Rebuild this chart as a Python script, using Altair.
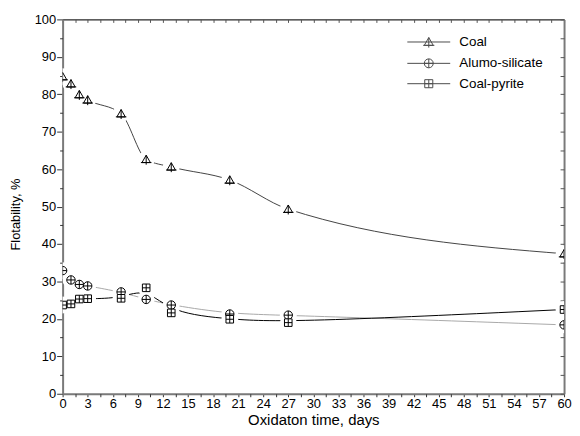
import altair as alt
import pandas as pd

days = [0, 1, 2, 3, 7, 10, 13, 20, 27, 60]
coal = [84.7, 82.8, 79.9, 78.5, 74.8, 62.6, 60.6, 57.1, 49.3, 37.4]
alumo = [32.9, 30.4, 29.2, 28.8, 27.2, 25.2, 23.7, 21.3, 21.0, 18.4]
pyrite = [23.7, 24.0, 25.3, 25.4, 25.5, 28.3, 21.6, 19.9, 19.0, 22.5]
series = ["Coal", "Alumo-silicate", "Coal-pyrite"]

x_major = [i * 3 for i in range(21)]
x_minor = [1.5 + i * 3 for i in range(20)]
x_all = [i * 1.5 for i in range(41)]
y_major = [i * 10 for i in range(11)]
y_minor = [5 + i * 10 for i in range(10)]
y_all = [i * 5 for i in range(21)]

rows = []
for name, vals in zip(series, [coal, alumo, pyrite]):
    for d, v in zip(days, vals):
        rows.append({"day": d, "value": v, "series": name})
df = pd.DataFrame(rows)

TRI = "M0,-1L1,0.75L-1,0.75Z M0,-1V1.25 M-1.25,0.75H1.25"
CIR = "M-1,0A1,1,0,1,1,1,0A1,1,0,1,1,-1,0Z M-1,0H1 M0,-1V1"
SQR = "M-0.9,-0.9H0.9V0.9H-0.9Z M-0.9,0H0.9 M0,-0.9V0.9"
LINE = "M-4.8,0H4.8 "

FONT = "Liberation Sans"
GRAY = "#7a7a7a"

xscale = alt.Scale(domain=[0, 60], nice=False, zero=False)
yscale = alt.Scale(domain=[0, 100], nice=False, zero=False)


def X(axis):
    return alt.X("day:Q", scale=xscale, axis=axis)


def Y(axis):
    return alt.Y("value:Q", scale=yscale, axis=axis)


base = alt.Chart(df)
color_scale = alt.Scale(domain=series, range=["#444444", "#a8a8a8", "#000000"])

lines_coal = base.transform_filter(alt.datum.series == "Coal").mark_line(
    interpolate="monotone", strokeWidth=1, clip=True).encode(
    x=X(alt.Axis(orient="bottom", values=x_major, tickSize=3, tickColor="#333",
                 domainColor=GRAY, domainWidth=2, labelFontSize=13, labelFont=FONT,
                 labelColor="black", labelPadding=1, labelFlush=False, labelOverlap=False,
                 title="Oxidaton time, days",
                 titleFont=FONT, titleFontSize=15, titleFontWeight="normal",
                 titleColor="black", titlePadding=2, grid=False)),
    y=Y(alt.Axis(orient="left", values=y_major, tickSize=6, tickColor="#333",
                 domainColor=GRAY, domainWidth=2, labelFontSize=13, labelFont=FONT,
                 labelColor="black", labelPadding=1, labelFlush=False, labelOverlap=False,
                 title="Flotability, %",
                 titleFont=FONT, titleFontSize=13, titleFontWeight="normal",
                 titleColor="black", titlePadding=12, titleY=196, grid=False)),
    color=alt.Color("series:N", scale=color_scale, legend=None),
)

lines_other = base.transform_filter(alt.datum.series != "Coal").mark_line(
    interpolate="basis", strokeWidth=1, clip=True).encode(
    x=X(None),
    y=Y(None),
    color=alt.Color("series:N", scale=color_scale, legend=None),
    detail="series:N",
)

halo = base.mark_point(shape="circle", filled=True, color="white", fill="white", opacity=1,
                       fillOpacity=1, size=290, clip=True).encode(
    x=X(alt.Axis(orient="bottom", values=x_minor, tickSize=3, tickColor="#333", labels=False,
                 domain=False, title=None, grid=False)),
    y=Y(alt.Axis(orient="left", values=y_minor, tickSize=3, tickColor="#333", labels=False,
                 domain=False, title=None, grid=False)),
)

markers = base.mark_point(fill="white", fillOpacity=1, stroke="black", strokeWidth=1,
                          opacity=1, size=72, clip=True).encode(
    x=X(alt.Axis(orient="top", ticks=False, labels=False, domainColor="black", domainWidth=1,
                 title=None, grid=False)),
    y=Y(alt.Axis(orient="right", ticks=False, labels=False, domainColor=GRAY, domainWidth=2,
                 title=None, grid=False)),
    shape=alt.Shape("series:N", scale=alt.Scale(domain=series, range=[TRI, CIR, SQR]), legend=None),
)

legend_layer = base.transform_filter("false").mark_point(stroke="black", strokeWidth=1, size=81).encode(
    x=X(alt.Axis(orient="top", values=x_all, tickSize=3, tickColor="#555", offset=-3, labels=False,
                 domain=False, title=None, grid=False)),
    y=Y(alt.Axis(orient="right", values=y_all, tickSize=4, tickColor="#555", offset=-4, labels=False,
                 domain=False, title=None, grid=False)),
    shape=alt.Shape("series:N",
                    scale=alt.Scale(domain=series, range=[LINE + TRI, LINE + CIR, LINE + SQR]),
                    legend=alt.Legend(title=None, orient="none", legendX=362, legendY=16,
                                      labelFont=FONT, labelFontSize=13.5, labelColor="black",
                                      labelOffset=24, rowPadding=5.5, padding=0,
                                      symbolStrokeColor="black", symbolFillColor="white",
                                      symbolStrokeWidth=1, symbolSize=81)),
)

chart = (
    alt.layer(lines_coal, lines_other, halo, markers, legend_layer)
    .resolve_axis(x="independent", y="independent")
    .resolve_scale(x="shared", y="shared", shape="independent")
    .properties(width=505, height=377, autosize=alt.AutoSizeParams(type="none"),
                padding={"left": 55, "top": 10, "right": 8, "bottom": 33})
    .configure_view(stroke=None)
    .configure(background="white")
)

chart.save("out.html", embed_options={"renderer": "svg", "actions": False})
